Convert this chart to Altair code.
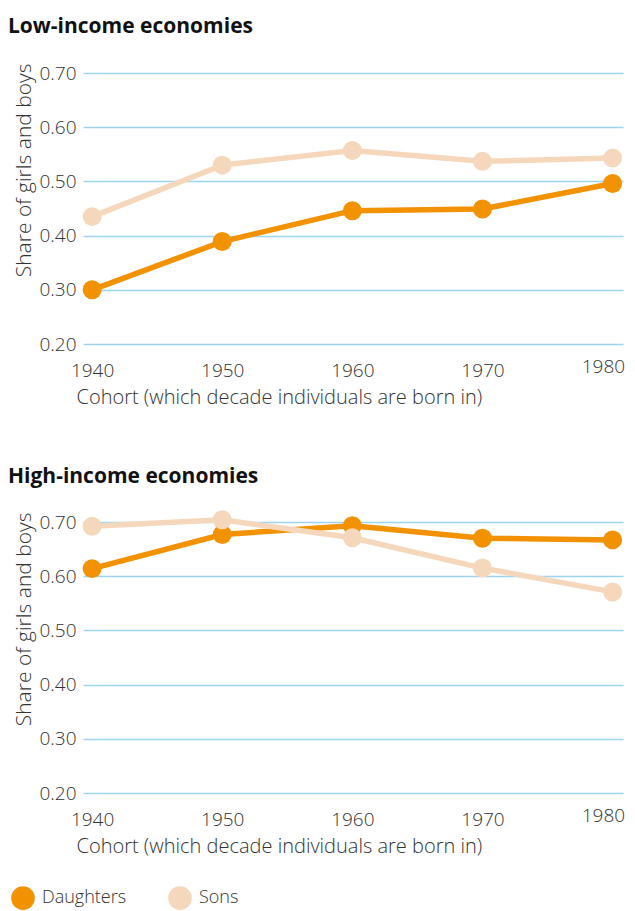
import altair as alt
import pandas as pd

cohorts = [1940, 1950, 1960, 1970, 1980]
series_names = ["Daughters", "Sons"]
colors = ["#F39200", "#F5D8BC"]

low_daughters = [0.300, 0.389, 0.446, 0.449, 0.496]
low_sons = [0.435, 0.530, 0.557, 0.537, 0.543]
high_daughters = [0.614, 0.677, 0.693, 0.670, 0.667]
high_sons = [0.692, 0.704, 0.671, 0.615, 0.571]

y_ticks = [0.2, 0.3, 0.4, 0.5, 0.6, 0.7]

FONT = "Open Sans"
TXT = "#333333"


def make_df(d, s):
    rows = []
    for c, v in zip(cohorts, d):
        rows.append({"cohort": c, "series": "Daughters", "value": v})
    for c, v in zip(cohorts, s):
        rows.append({"cohort": c, "series": "Sons", "value": v})
    return pd.DataFrame(rows)


color_scale = alt.Scale(domain=series_names, range=colors)

legend = alt.Legend(
    title=None, orient="none", legendX=-72, legendY=813, direction="horizontal",
    symbolType="circle", symbolSize=560, labelFontSize=18, labelFont=FONT,
    labelFontWeight=300, labelColor=TXT, columnPadding=41, symbolStrokeWidth=0,
    symbolOpacity=1, labelOffset=7,
)


def panel(title, d, s, title_offset):
    df = make_df(d, s)
    x = alt.X(
        "cohort:Q",
        scale=alt.Scale(domain=[1939.3, 1980.8], nice=False, zero=False),
        axis=alt.Axis(
            values=cohorts, format="d", title="Cohort (which decade individuals are born in)",
            grid=False, domain=False, ticks=False,
            labelPadding=alt.condition("datum.value == 1980", alt.value(13), alt.value(17)),
            labelAlign=alt.condition("datum.value == 1980", alt.value("right"), alt.value("center")),
            labelOffset=alt.condition("datum.value == 1980", alt.value(12), alt.value(0)),
            labelFontSize=19, titleFontSize=20, titleFontWeight=300, labelFontWeight=300,
            labelColor=TXT, titleColor=TXT, labelFont=FONT, titleFont=FONT,
            titleAlign="left", titleAnchor="start", titleX=-7, titlePadding=7, labelFlush=False,
        ),
    )
    y = alt.Y(
        "value:Q",
        scale=alt.Scale(domain=[0.2, 0.7], nice=False, zero=False),
        axis=alt.Axis(
            values=y_ticks, format=".2f", title="Share of girls and boys",
            grid=True, gridColor="#9DD5F0", gridWidth=1.5, domain=False, ticks=False,
            labelPadding=7, labelFontSize=19, titleFontSize=21, titleFontWeight=300,
            labelFontWeight=300,
            labelColor=TXT, titleColor=TXT, labelFont=FONT, titleFont=FONT,
            titlePadding=4, titleAlign="right", titleY=-10,
        ),
    )
    color = alt.Color("series:N", scale=color_scale, legend=legend)
    layers = []
    for name in series_names:
        base = alt.Chart(df).transform_filter(alt.datum.series == name)
        layers.append(base.mark_line(strokeWidth=5.5, clip=False).encode(x=x, y=y, color=color))
        layers.append(base.mark_circle(size=360, opacity=1, clip=False).encode(x=x, y=y, color=color))
    return alt.layer(*layers).properties(
        width=540, height=271,
        title=alt.TitleParams(title, anchor="start", frame="group", fontSize=21,
                              font=FONT, fontWeight="bold", color="#111111",
                              offset=title_offset, dx=-75),
    )


top = panel("Low-income economies", low_daughters, low_sons, 26)
bottom = panel("High-income economies", high_daughters, high_sons, 22)

chart = (
    alt.vconcat(top, bottom, spacing=58)
    .configure_view(stroke=None)
    .resolve_scale(color="shared")
    .properties(padding={"left": 0, "top": 8, "right": 0, "bottom": 0})
)

chart.save("out.html", embed_options={"renderer": "svg", "actions": False})
